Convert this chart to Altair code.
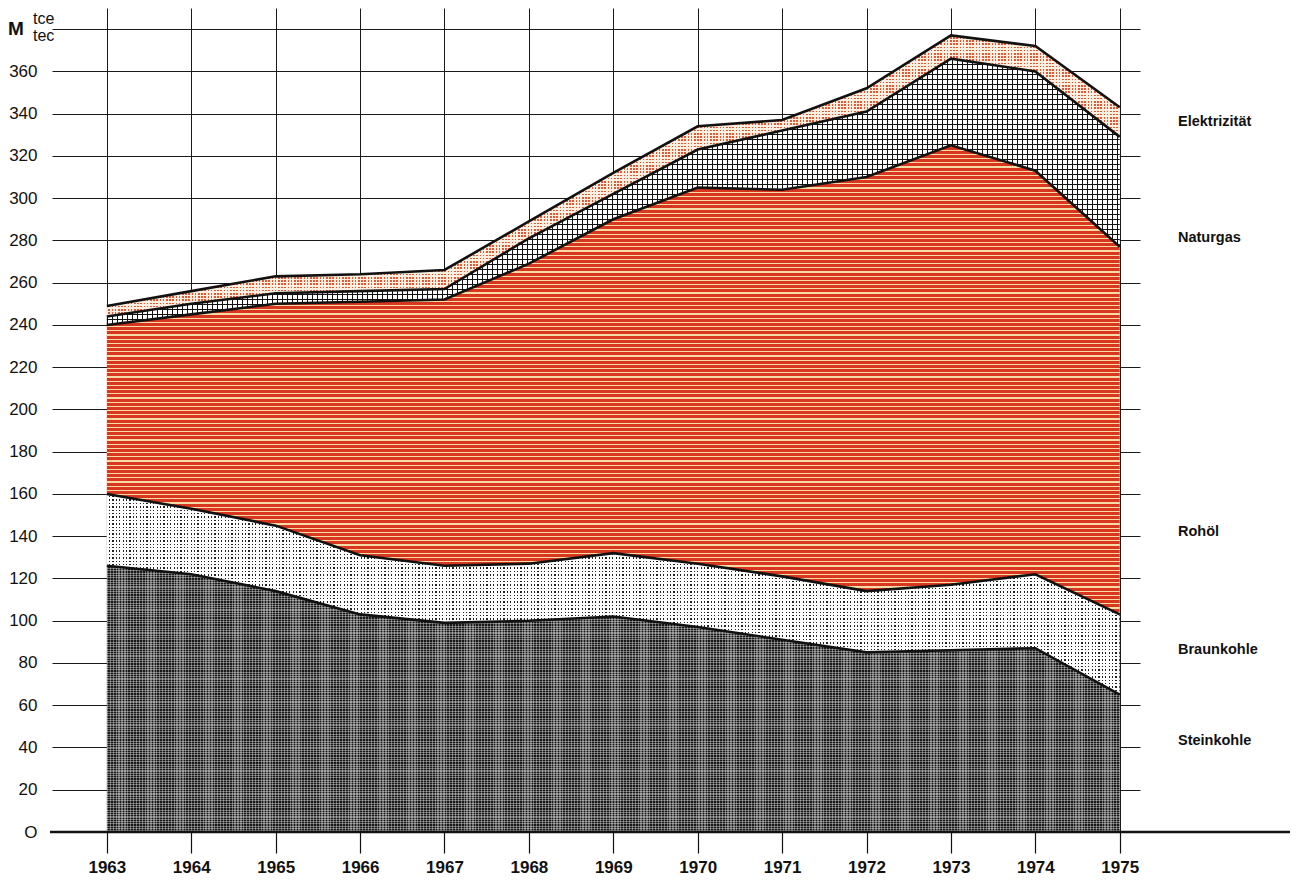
import altair as alt
import pandas as pd

# ---------------- data ----------------
years = [1963, 1964, 1965, 1966, 1967, 1968, 1969, 1970, 1971, 1972, 1973, 1974, 1975]
steinkohle = [126, 122, 114, 103, 99, 100, 102, 97, 91, 85, 86, 87, 65]
braunkohle = [34, 31, 31, 28, 27, 27, 30, 30, 30, 29, 31, 35, 38]
rohoel = [80, 92, 105, 120, 126, 142, 158, 178, 183, 196, 208, 191, 174]
naturgas = [4, 5, 5, 5, 5, 12, 12, 18, 28, 31, 41, 47, 52]
elektrizitaet = [5, 6, 8, 8, 9, 8, 10, 11, 5, 11, 11, 12, 14]

series_names = ["Steinkohle", "Braunkohle", "Rohöl", "Naturgas", "Elektrizität"]
label_levels = [43, 86, 142, 281, 336]
y_ticks = list(range(0, 381, 20))
unit_main = "M"
unit_sub = ["tce", "tec"]

# ---------------- table built from the arrays ----------------
series_values = [steinkohle, braunkohle, rohoel, naturgas, elektrizitaet]
rows = []
for i, yr in enumerate(years):
    base = 0
    for name, vals in zip(series_names, series_values):
        rows.append({"year": yr, "series": name, "lower": base, "upper": base + vals[i]})
        base += vals[i]
df = pd.DataFrame(rows)
labels_df = pd.DataFrame({"label": series_names, "level": label_levels})

# ---------------- geometry ----------------
W, H = 1088, 824
X_MIN, X_MAX = 1962.35, 1975.24
Y_MAX = 390
px_year = W / (X_MAX - X_MIN)
px_unit = H / Y_MAX
FONT = "Liberation Sans, Arial, sans-serif"
NARROW = "Liberation Sans Narrow, Liberation Sans, Arial, sans-serif"
T = "rgba(255,255,255,0)"


def stripes(color, extent_px, period, frac, vertical=False):
    n = extent_px / period
    stops = []
    k = 0
    while k / n < 1:
        a = round(k / n, 6)
        b = round(min((k + frac) / n, 1), 6)
        c = round(min((k + 1) / n, 1), 6)
        stops += [
            {"offset": a, "color": color},
            {"offset": b, "color": color},
            {"offset": b, "color": T},
            {"offset": c, "color": T},
        ]
        k += 1
    return {
        "gradient": "linear",
        "x1": 0, "y1": 0,
        "x2": 1 if vertical else 0,
        "y2": 0 if vertical else 1,
        "stops": stops,
    }


def v_extent(name):
    sub = df[df.series == name]
    return (sub.upper.max() - sub.lower.min()) * px_unit


h_extent = (years[-1] - years[0]) * px_year

xscale = alt.Scale(domain=[X_MIN, X_MAX], nice=False, zero=False)
yscale = alt.Scale(domain=[0, Y_MAX], nice=False, zero=True)

xaxis = alt.Axis(
    values=years, format="d", title=None, grid=True, gridColor="#1a1a1a",
    gridWidth=1, gridOpacity=1, domain=False, ticks=True, tickSize=21,
    tickColor="#111", tickWidth=1.2, labelFont=NARROW, labelFontSize=17,
    labelFontWeight="bold", labelColor="#111", labelPadding=6, labelAngle=0,
)
yaxis = alt.Axis(
    values=y_ticks, title=None, grid=True, gridColor="#1a1a1a", gridWidth=1,
    gridOpacity=1, domain=False, ticks=False, labelPadding=15,
    labelFont=FONT, labelFontSize=17,
    labelColor="#111", labelExpr="datum.value == 380 ? '' : datum.value == 0 ? 'O' : datum.label",
)


def XE():
    return alt.X("year:Q", scale=xscale, axis=xaxis)


def YE(field):
    return alt.Y(f"{field}:Q", scale=yscale, axis=yaxis)


def area(name, fill):
    return (
        alt.Chart(df)
        .transform_filter(alt.datum.series == name)
        .mark_area(fill=fill, interpolate="linear", strokeWidth=0)
        .encode(x=XE(), y=YE("upper"), y2=alt.Y2("lower:Q"))
    )


layers = []
# Steinkohle: dark grainy stipple
e = v_extent("Steinkohle")
layers.append(area("Steinkohle", "#181818"))
layers.append(area("Steinkohle", stripes("rgba(255,255,255,0.36)", e, 2.3, 0.45)))
layers.append(area("Steinkohle", stripes("rgba(255,255,255,0.36)", h_extent, 2.9, 0.45, vertical=True)))
# Braunkohle: fine black dots on white
e = v_extent("Braunkohle")
layers.append(area("Braunkohle", "#222222"))
layers.append(area("Braunkohle", stripes("#ffffff", e, 3.4, 0.62)))
layers.append(area("Braunkohle", stripes("#ffffff", h_extent, 3.4, 0.62, vertical=True)))
# Rohöl: red with pale horizontal lines
e = v_extent("Rohöl")
layers.append(area("Rohöl", "#d9361f"))
layers.append(area("Rohöl", stripes("#f6dca4", e, 4.2, 0.3)))
# Naturgas: black cross-hatch on white
e = v_extent("Naturgas")
layers.append(area("Naturgas", "#ffffff"))
layers.append(area("Naturgas", stripes("#111111", e, 5.0, 0.26)))
layers.append(area("Naturgas", stripes("#111111", h_extent, 5.0, 0.26, vertical=True)))
# Elektrizität: orange dots on cream
e = v_extent("Elektrizität")
layers.append(area("Elektrizität", "#df5a32"))
layers.append(area("Elektrizität", stripes("#fcefe2", e, 3.2, 0.5)))
layers.append(area("Elektrizität", stripes("#fcefe2", h_extent, 3.2, 0.5, vertical=True)))

# boundary lines
layers.append(
    alt.Chart(df)
    .mark_line(color="#111111", strokeWidth=2.6, interpolate="linear")
    .encode(x=XE(), y=YE("upper"), detail="series:N")
)

# base line
layers.append(
    alt.Chart(pd.DataFrame({"v": [0]}))
    .mark_rule(color="#111111", strokeWidth=2.4)
    .encode(x=alt.value(-2), x2=alt.value(1253), y=YE("v"))
)

# right-hand series labels
layers.append(
    alt.Chart(labels_df)
    .mark_text(align="left", baseline="middle", font=FONT, fontSize=14.5, fontWeight="bold", color="#111")
    .encode(x=alt.value(1126), y=YE("level"), text="label:N")
)

# unit label
layers.append(
    alt.Chart(pd.DataFrame({"t": [unit_main], "v": [380]}))
    .mark_text(align="left", baseline="middle", font=FONT, fontSize=19, fontWeight="bold", color="#111")
    .encode(x=alt.value(-44), y=YE("v"), text="t:N")
)
layers.append(
    alt.Chart(pd.DataFrame({"t": [unit_sub[0]], "v": [380]}))
    .mark_text(align="left", baseline="middle", font=FONT, fontSize=16, color="#111", dy=-10)
    .encode(x=alt.value(-19), y=YE("v"), text="t:N")
)
layers.append(
    alt.Chart(pd.DataFrame({"t": [unit_sub[1]], "v": [380]}))
    .mark_text(align="left", baseline="middle", font=FONT, fontSize=16, color="#111", dy=7)
    .encode(x=alt.value(-19), y=YE("v"), text="t:N")
)

chart = (
    alt.layer(*layers)
    .properties(
        width=W, height=H,
        padding={"left": 44, "top": 0, "right": 150, "bottom": 50},
        autosize=alt.AutoSizeParams(type="none"),
        background="white",
    )
    .configure_view(stroke=None)
)

chart.save("out.html", embed_options={"renderer": "svg", "actions": False})
